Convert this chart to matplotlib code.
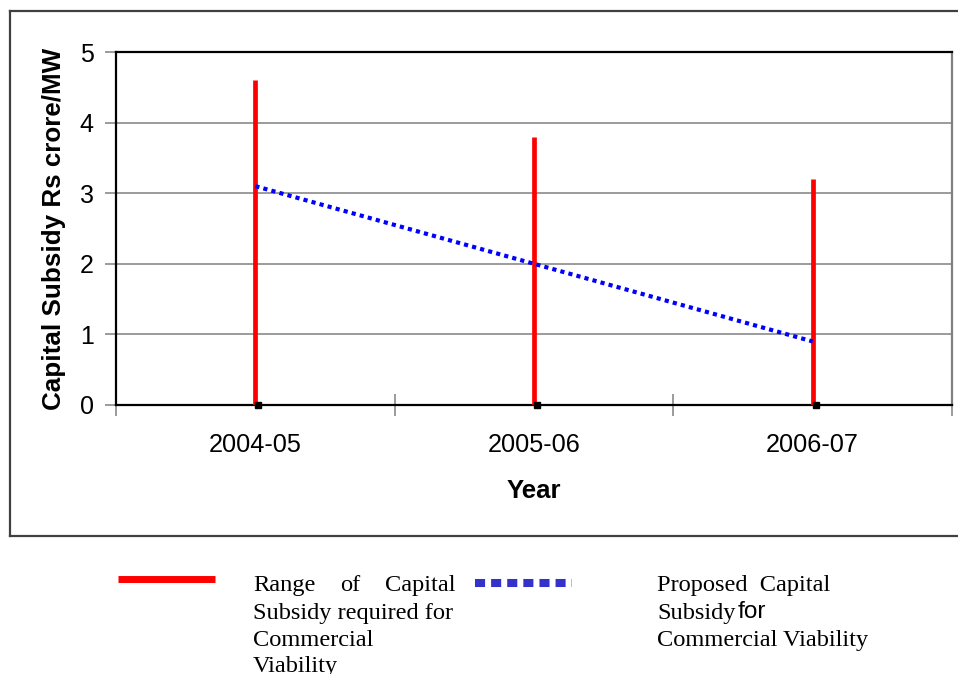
import matplotlib
matplotlib.use("Agg")
import matplotlib.pyplot as plt
from matplotlib.lines import Line2D
import matplotlib.transforms as mtransforms

# Data
years = ["2004-05", "2005-06", "2006-07"]
range_high = [4.6, 3.8, 3.2]
range_low = [0.0, 0.0, 0.0]
proposed = [3.1, 2.0, 0.9]
y_ticks = [0, 1, 2, 3, 4, 5]

SANS = "Liberation Sans"
SERIF = "Liberation Serif"

W, H = 958, 674
fig = plt.figure(figsize=(W / 100, H / 100), dpi=100)


def fx(px):
    return px / W


def fy(py):
    return 1 - py / H


ax = fig.add_axes([fx(116), fy(405), fx(952) - fx(116), fy(52) - fy(405)])

x = list(range(len(years)))

# Gridlines
for v in y_ticks[1:-1]:
    ax.axhline(v, color="#808080", lw=1.1, zorder=1)

# Range bars
ax.vlines(x, range_low, range_high, colors="#FF0000", lw=3.4, zorder=3)

# Low markers (small black squares)
offset = mtransforms.offset_copy(ax.transData, fig=fig, x=3, y=0, units="dots")
ax.plot(x, range_low, linestyle="none", marker="s", markersize=4.4,
        color="black", transform=offset, zorder=4, clip_on=False)

# Proposed subsidy line
ax.plot(x, proposed, color="#0000FF", lw=3.0, linestyle=(0, (1, 1)),
        dash_capstyle="butt", zorder=5)

ax.set_xlim(-0.5, len(years) - 0.5)
ax.set_ylim(0, 5)

ax.set_yticks(y_ticks)
ax.set_yticklabels([str(v) for v in y_ticks], fontsize=18, family=SANS)
ax.tick_params(axis="y", direction="out", length=8, width=1.1, color="#808080", pad=8)

ax.set_xticks(x)
ax.set_xticklabels(years, fontsize=18.2, family=SANS)
ax.tick_params(axis="x", which="major", length=0, pad=20)
ax.set_xticks([i - 0.5 for i in range(len(years) + 1)], minor=True)
ax.tick_params(axis="x", which="minor", direction="inout", length=16, width=1.1, color="#808080")

for side in ["left", "bottom", "top"]:
    ax.spines[side].set_color("black")
    ax.spines[side].set_linewidth(1.6)
ax.spines["right"].set_color("#808080")
ax.spines["right"].set_linewidth(1.6)

ax.set_xlabel("Year", fontsize=18.5, fontweight="bold", family=SANS, labelpad=16)
ax.set_ylabel("Capital Subsidy Rs crore/MW", fontsize=18.7, fontweight="bold", family=SANS, labelpad=10)

# Chart area frame (extends past the right edge)
frame_kw = dict(color="#404040", lw=1.6, transform=fig.transFigure)
fig.add_artist(Line2D([fx(10), fx(10)], [fy(11), fy(536)], **frame_kw))
fig.add_artist(Line2D([fx(10), 1.0], [fy(11), fy(11)], **frame_kw))
fig.add_artist(Line2D([fx(10), 1.0], [fy(536), fy(536)], **frame_kw))

# Legend
fig.add_artist(Line2D([fx(118), fx(215)], [fy(578.5), fy(578.5)], color="#FF0000",
                      lw=5.0, solid_capstyle="butt", transform=fig.transFigure))
fig.add_artist(Line2D([fx(475), fx(572)], [fy(583), fy(583)], color="#3333CC",
                      lw=5.8, linestyle=(0, (1.25, 0.75)), dash_capstyle="butt",
                      transform=fig.transFigure))

tkw = dict(fontsize=17.6, family=SERIF, va="baseline", transform=fig.transFigure)
b1, b2, b3, b4 = 591, 618.5, 646, 672
fig.text(fx(253), fy(b1), "Range", ha="left", **tkw)
fig.text(fx(340), fy(b1), "of", ha="left", **tkw)
fig.text(fx(455), fy(b1), "Capital", ha="right", **tkw)
fig.text(fx(253), fy(b2), "Subsidy required for", ha="left", **tkw)
fig.text(fx(253), fy(b3), "Commercial", ha="left", **tkw)
fig.text(fx(253), fy(b4), "Viability", ha="left", **tkw)

fig.text(fx(657), fy(b1), "Proposed  Capital", ha="left", **tkw)
fig.text(fx(657), fy(b2), "Subsidy", ha="left", **tkw)
fig.text(fx(738), fy(b2), "for", ha="left", fontsize=17.6, family=SANS,
         va="baseline", transform=fig.transFigure)
fig.text(fx(657), fy(b3), "Commercial Viability", ha="left", **tkw)

fig.savefig("out.png", dpi=100)
